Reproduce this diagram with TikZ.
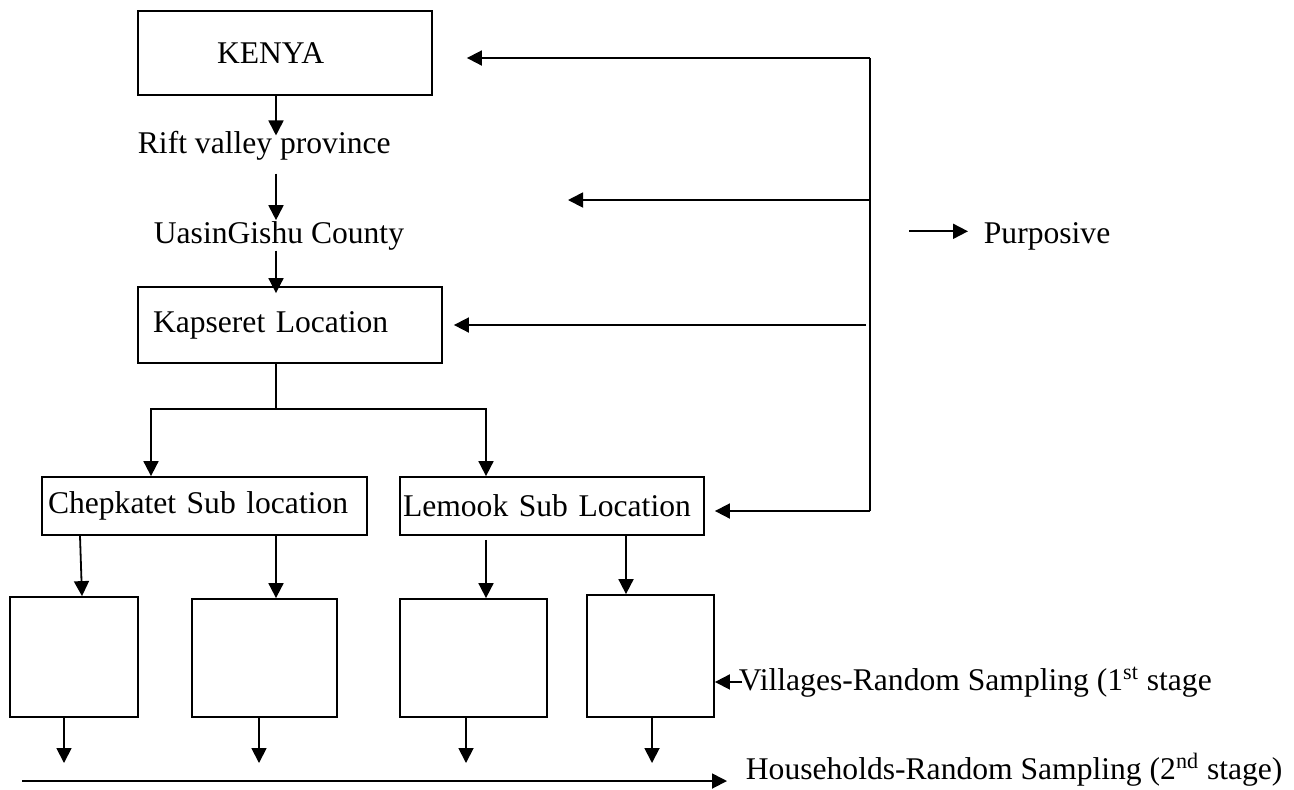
\documentclass[tikz,border=0pt]{standalone}
\usepackage{fontspec}
\setmainfont{Liberation Serif}
\usetikzlibrary{arrows.meta, positioning, calc}

\begin{document}
\begin{tikzpicture}[x=0.5pt, y=-0.5pt, line width=0.9pt,%
  font=\fontsize{15.8}{19}\selectfont,
  box/.style={draw, rectangle, inner sep=0pt},
  lbl/.style={inner sep=0pt, anchor=base west},
  arr/.style={-{Triangle[length=7.5pt,width=7.5pt]}}
  ]
  \useasboundingbox (0,0) rectangle (1294,789);
  \coordinate (axis) at (276,0);

  \node[box, minimum height=42pt, text width=68pt, inner xsep=39.5pt, align=left] (kenya) at (285,53) {KENYA};
  \node[lbl] (rift) at (137,153) {Rift valley province};
  \node[lbl] (county) at (153,243) {UasinGishu County};
  \node[box, minimum height=38pt, text width=137pt, inner xsep=7.5pt, align=left] (kapseret) at (290,325) {Kapseret Location};
  \node[box, minimum height=29pt, text width=156.5pt, inner xsep=3pt, align=left] (chep) at (204.5,506) {Chepkatet Sub location};
  \node[box, minimum height=29pt, text width=149pt, inner xsep=1.5pt, align=left] (lemook) at (552,506) {Lemook Sub Location};

  % villages
  \node[box, minimum width=64pt, minimum height=60pt] (v1) at (74,657) {};
  \node[box, minimum width=72.5pt, minimum height=59pt] (v2) at (264.5,658) {};
  \node[box, minimum width=73.5pt, minimum height=59pt] (v3) at (473.5,658) {};
  \node[box, minimum width=63.5pt, minimum height=61pt] (v4) at (650.5,656) {};

  \node[lbl] (villages) at (738,690) {Villages-Random Sampling (1\textsuperscript{st} stage};
  \node[lbl] (households) at (745,779) {Households-Random Sampling (2\textsuperscript{nd} stage)};
  \node[lbl] (purposive) at (983,243) {Purposive};

  \coordinate (fork) at (276,409);
  \coordinate (ptop) at (870,58);
  \coordinate (pbot) at (870,511);
  \coordinate (gap) at (568,200);
  \coordinate (hh) at (22,781);

  % main column
  \draw[arr, shorten >=-2.8pt] (kenya.south -| axis) -- (rift.north -| axis);
  \draw[arr, shorten <=6.5pt] (rift.south -| axis) -- (county.north -| axis);
  \draw[arr, shorten >=-3.5pt] (county.south -| axis) -- (kapseret.north -| axis);
  \draw (kapseret.south -| axis) -- (fork);
  \draw[arr] (fork) -| ([xshift=-26.75pt]chep.north);
  \draw[arr] (fork) -| ([xshift=-33pt]lemook.north);

  \draw[arr] ([xshift=-62.25pt]chep.south) -- ([xshift=4pt]v1.north);
  \draw[arr] ([xshift=35.75pt]chep.south) -- ([xshift=5.75pt]v2.north);
  \draw[arr, shorten <=2pt] ([xshift=-33pt]lemook.south) -- ([xshift=6.25pt]v3.north);
  \draw[arr] ([xshift=37pt]lemook.south) -- ([xshift=-12.25pt]v4.north);

  \foreach \v/\dx in {v1/-5pt, v2/-2.75pt, v3/-3.75pt, v4/0.75pt}
    \draw[arr, shorten >=9pt] ([xshift=\dx]\v.south) -- ([xshift=\dx]\v.south |- hh);
  \draw[arr, shorten >=9pt] (hh) -- (hh -| households.west);

  % purposive side
  \draw (pbot) -- (ptop);
  \draw[arr, shorten >=17pt] (ptop) -- (ptop -| kenya.east);
  \draw[arr] (ptop |- gap) -- (gap);
  \draw[arr, shorten <=2pt, shorten >=5.5pt] (ptop |- kapseret.east) -- (kapseret.east);
  \draw[arr, shorten >=5pt] (pbot) -- (pbot -| lemook.east);
  \draw[arr] ([xshift=-37pt,yshift=2.3pt]purposive.west) -- ([xshift=-7.5pt,yshift=2.3pt]purposive.west);
  \draw[arr] ([xshift=2pt]villages.west) -- (villages.west -| v4.east);
\end{tikzpicture}
\end{document}
